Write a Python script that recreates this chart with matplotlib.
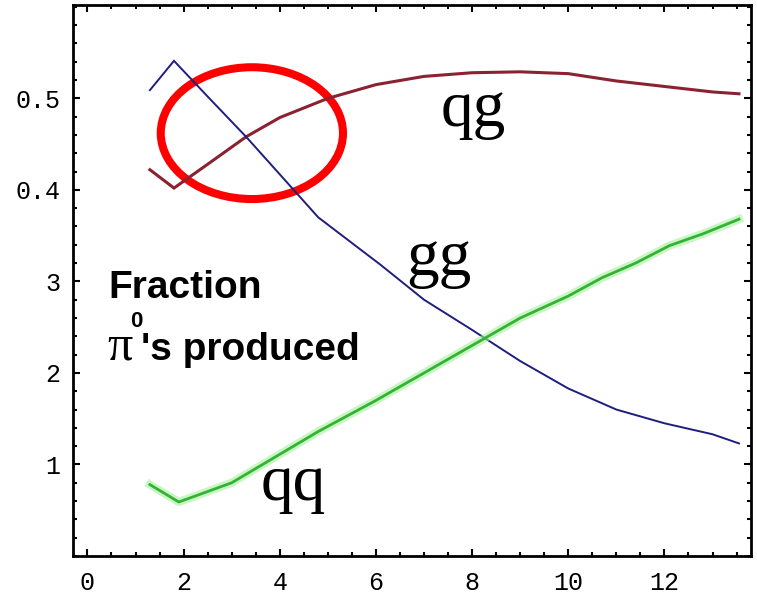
import numpy as np
import matplotlib.pyplot as plt
from matplotlib.patches import Ellipse
from matplotlib.ticker import MultipleLocator, FixedLocator, FixedFormatter

# transverse momentum samples (GeV) and subprocess fractions
x_qg = [1.3, 1.8, 2.5, 3.3, 4.0, 5.0, 6.0, 7.0, 8.0, 9.0, 10.0, 11.0, 12.0, 13.0, 13.55]
frac_qg = [0.422, 0.402, 0.428, 0.458, 0.479, 0.500, 0.515, 0.524, 0.528, 0.529, 0.527,
           0.519, 0.513, 0.507, 0.505]

x_gg = [1.3, 1.8, 2.5, 3.3, 4.0, 4.8, 5.5, 6.1, 7.0, 8.0, 9.0, 10.0, 11.0, 12.0, 13.0, 13.55]
frac_gg = [0.509, 0.541, 0.502, 0.458, 0.417, 0.370, 0.342, 0.318, 0.280, 0.247, 0.213,
           0.183, 0.160, 0.145, 0.133, 0.123]

x_qq = [1.3, 1.9, 3.0, 4.8, 6.0, 7.0, 8.2, 9.0, 10.0, 10.7, 11.4, 12.1, 12.8, 13.55]
frac_qq = [0.078, 0.059, 0.080, 0.136, 0.170, 0.200, 0.236, 0.260, 0.284, 0.304, 0.320,
           0.339, 0.352, 0.368]

ytick_vals = [0.1, 0.2, 0.3, 0.4, 0.5]
ytick_text = ["1", "2", "3", "0.4", "0.5"]
xtick_vals = [0, 2, 4, 6, 8, 10, 12]

fig = plt.figure(figsize=(7.57, 5.96), dpi=100)
ax = fig.add_axes([73 / 757, 1 - 556 / 596, 678 / 757, 551 / 596])

ax.plot(x_qg, frac_qg, color='#8B2232', linewidth=2.2, solid_joinstyle='miter')
ax.plot(x_gg, frac_gg, color='#1E1E7E', linewidth=1.4, solid_joinstyle='miter')
# soft halo under the green curve
ax.plot(x_qq, frac_qq, color='#A8F0A0', linewidth=6, alpha=0.6)
ax.plot(x_qq, frac_qq, color='#32B432', linewidth=2.0)

ax.set_xlim(-0.3, 13.8)
ax.set_ylim(0.0, 0.602)

ax.xaxis.set_major_locator(FixedLocator(xtick_vals))
ax.xaxis.set_minor_locator(MultipleLocator(0.5))
ax.yaxis.set_major_locator(FixedLocator(ytick_vals))
ax.yaxis.set_major_formatter(FixedFormatter(ytick_text))
ax.yaxis.set_minor_locator(MultipleLocator(0.02))

ax.tick_params(which='both', direction='in', top=True, right=True, width=1.5, colors='black')
ax.tick_params(which='major', length=5)
ax.tick_params(which='minor', length=3)
ax.tick_params(axis='x', pad=11)
ax.tick_params(axis='y', pad=9)
for lab in ax.get_xticklabels() + ax.get_yticklabels():
    lab.set_family('Liberation Mono')
    lab.set_fontsize(18)
for sp in ax.spines.values():
    sp.set_linewidth(2)

# curve names
serif = dict(family='Liberation Serif', fontsize=47, color='black', va='baseline', ha='left')
ax.text(7.35, 0.470, "qg", **serif)
ax.text(6.63, 0.307, "gg", **serif)
ax.text(3.6, 0.061, "qq", **serif)

# caption drawn in figure pixels
px = lambda x, y: (x / 757, 1 - y / 596)
bold = dict(family='Liberation Sans', fontweight='bold', color='black', va='baseline', ha='left')
fig.text(*px(108, 298), "Fraction", fontsize=28, **bold)
fig.text(*px(107, 360), "\u03c0", family='Liberation Serif', fontsize=36,
         va='baseline', ha='left')
fig.text(*px(130, 327), "0", fontsize=16, **bold)
fig.text(*px(141, 360), "'s produced", fontsize=28, **bold)

# highlight the crossing region
ax.add_patch(Ellipse((3.42, 0.462), 3.79, 0.144, fill=False, edgecolor='#FF0000',
                     linewidth=5.8))

fig.savefig("out.png", dpi=100)
